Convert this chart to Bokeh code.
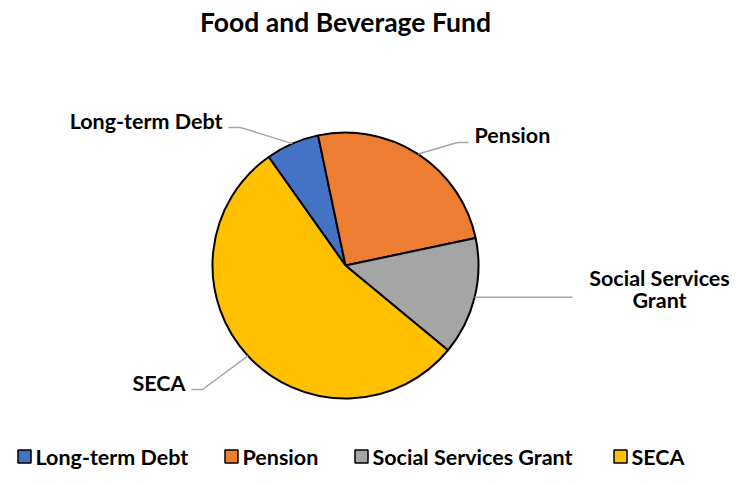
import numpy as np
from bokeh.plotting import figure
from bokeh.models import Range1d, ColumnDataSource
from bokeh.core.properties import value
from bokeh.embed import file_html
from bokeh.resources import INLINE

# ---------------- data ----------------
title = "Food and Beverage Fund"
categories = ["Long-term Debt", "Pension", "Social Services Grant", "SECA"]
shares = [6.5, 25.0, 14.3, 54.2]
label_lines = [["Long-term Debt"], ["Pension"], ["Social Services", "Grant"], ["SECA"]]
colors = ["#4472C4", "#ED7D31", "#A5A5A5", "#FFC000"]
first_slice_angle = 324.7  # degrees, clockwise from 12 o'clock

# ---------------- layout ----------------
W, H = 733, 469
FONT = "Lato"
FS = "21.5px"

def X(px):  # picture x -> data x
    return px

def Y(py):  # picture y -> data y
    return H - py

cx, cy, R = X(345), Y(265), 133

p = figure(width=W, height=H, output_backend="svg", toolbar_location=None,
           x_range=Range1d(0, W), y_range=Range1d(0, H), min_border=0,
           outline_line_color=None, background_fill_color="white",
           border_fill_color="white")
p.axis.visible = False
p.grid.visible = False

# wedges
total = float(sum(shares))
cum = np.concatenate([[0.0], np.cumsum(shares)]) / total * 360.0
theta0 = first_slice_angle + cum[:-1]   # clockwise from top
theta1 = first_slice_angle + cum[1:]
start = np.radians(90.0 - theta1)
end = np.radians(90.0 - theta0)
src = ColumnDataSource(dict(start=start, end=end, color=colors, cat=categories))
p.wedge(x=cx, y=cy, radius=R, start_angle="start", end_angle="end",
        fill_color="color", line_color="black", line_width=2, source=src)

# leader lines: pie edge at mid angle -> elbow -> end
mid = np.radians((theta0 + theta1) / 2.0)
edge_x = cx + R * np.sin(mid)
edge_y = cy + R * np.cos(mid)
elbows = [(240, 127), (457, 142), (572, None), (202, 389)]
ends = [(228, 127), (468, 142), None, (191, 389)]
for i in range(4):
    ex, ey = edge_x[i], edge_y[i]
    bx = X(elbows[i][0])
    by = Y(elbows[i][1]) if elbows[i][1] is not None else ey
    xs = [ex, bx]
    ys = [ey, by]
    if ends[i] is not None:
        xs.append(X(ends[i][0]))
        ys.append(Y(ends[i][1]))
    p.line(xs, ys, line_color="#A6A6A6", line_width=1.5)

# data labels
lab_pos = [(222, 120, "right"), (474, 134, "left"), (659, 277, "center"), (185, 382, "right")]
for i, (lx, ly, al) in enumerate(lab_pos):
    for j, t in enumerate(label_lines[i]):
        p.text(x=[X(lx)], y=[Y(ly + 22 * j)], text=[t], text_align=al,
               text_baseline="middle", text_font=value(FONT), text_font_style="bold",
               text_font_size=FS, text_color="black")

# title
p.text(x=[X(345)], y=[Y(21)], text=[title], text_align="center", text_baseline="middle",
       text_font=value(FONT), text_font_style="bold", text_font_size="26.5px",
       text_color="black")

# legend (manual)
leg_sq_x = [24, 231, 361, 620]
leg_y = 456
p.scatter(x=[X(v) for v in leg_sq_x], y=[Y(leg_y)] * 4, marker="square", size=13,
          fill_color=colors, line_color="black", line_width=1.5)
for i, c in enumerate(categories):
    p.text(x=[X(leg_sq_x[i] + 11)], y=[Y(leg_y)], text=[c], text_align="left",
           text_baseline="middle", text_font=value(FONT), text_font_style="bold",
           text_font_size=FS, text_color="black")

open("out.html", "w").write(file_html(p, INLINE))
